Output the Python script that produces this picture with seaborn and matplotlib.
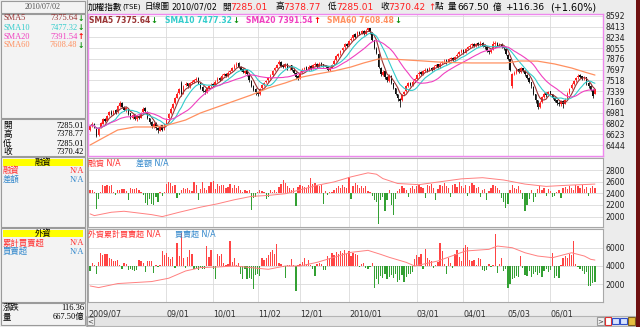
import numpy as np
import pandas as pd
import matplotlib
matplotlib.use("Agg")
import matplotlib.pyplot as plt
from matplotlib.patches import Rectangle
import seaborn as sns

# ---------------- data ----------------
closes = [
6760,6790,6740,6600,6720,6810,6870,6840,6930,6990,
6960,7010,6980,7090,7140,7080,7030,7060,6960,6900,
6940,6880,6920,6900,6980,7050,7010,6900,6820,6760,
6800,6720,6690,6760,6700,6790,6880,6960,7050,7130,
7220,7300,7380,7290,7430,7460,7420,7470,7500,7520,
7550,7480,7400,7350,7330,7390,7420,7450,7430,7500,
7550,7530,7600,7620,7590,7650,7680,7720,7760,7800,
7740,7700,7660,7680,7620,7520,7430,7360,7320,7300,
7380,7440,7480,7510,7560,7600,7680,7720,7780,7830,
7760,7740,7790,7720,7760,7700,7640,7580,7560,7650,
7700,7730,7690,7750,7720,7770,7790,7750,7800,7780,
7760,7740,7700,7730,7780,7850,7920,7960,8010,8060,
8120,8100,8180,8210,8280,8250,8320,8300,8340,8290,
8350,8390,8320,8200,8060,7980,7740,7620,7660,7580,
7520,7600,7480,7400,7300,7220,7180,7280,7330,7420,
7470,7440,7500,7540,7610,7650,7630,7670,7700,7680,
7720,7700,7750,7780,7740,7800,7830,7850,7820,7870,
7890,7860,7910,7950,7990,8020,7980,8040,8070,8100,
8120,8090,8130,8110,8140,8100,8080,8010,7990,8030,
8120,8150,8100,8130,8080,8060,7960,7880,7700,7620,
7650,7700,7660,7720,7680,7620,7560,7500,7420,7300,
7200,7080,7150,7240,7300,7270,7330,7290,7230,7180,
7140,7120,7170,7130,7200,7300,7380,7450,7510,7560,
7600,7580,7540,7560,7470,7420,7364,7254.06,7370.42]
opens = [
6690,6770,6800,6740,6610,6730,6800,6880,6850,6940,
7000,6950,7020,6990,7100,7150,7070,7020,7050,6970,
6890,6950,6870,6930,6900,6990,7060,7000,6890,6830,
6750,6810,6720,6680,6770,6700,6800,6890,6970,7060,
7140,7230,7310,7480,7300,7440,7470,7420,7480,7490,
7530,7560,7470,7410,7350,7320,7400,7430,7460,7430,
7510,7560,7530,7610,7630,7590,7660,7680,7730,7770,
7810,7740,7710,7650,7690,7610,7510,7420,7380,7330,
7290,7390,7450,7490,7520,7570,7610,7690,7730,7790,
7830,7770,7740,7800,7720,7770,7700,7650,7590,7560,
7660,7710,7740,7690,7760,7720,7780,7800,7750,7810,
7790,7760,7750,7700,7730,7790,7860,7930,7970,8020,
8070,8130,8110,8190,8220,8290,8250,8330,8300,8350,
8290,8360,8390,8310,8190,8050,7960,7730,7610,7670,
7570,7510,7600,7470,7390,7290,7210,7190,7290,7340,
7430,7480,7440,7510,7550,7620,7660,7630,7680,7710,
7680,7730,7700,7760,7790,7740,7810,7840,7860,7820,
7880,7900,7860,7920,7960,8000,8030,7980,8050,8080,
8110,8130,8090,8140,8110,8150,8110,8080,8010,7990,
8040,8130,8150,8100,8130,8080,8050,7950,7870,7420,
7630,7650,7710,7660,7720,7680,7610,7560,7490,7410,
7290,7190,7080,7160,7250,7310,7270,7340,7290,7230,
7190,7150,7120,7180,7130,7210,7310,7390,7460,7520,
7570,7610,7590,7540,7570,7480,7420,7360,7285.01]
highs = [
6780,6820,6810,6750,6740,6830,6890,6900,6950,7010,
7020,7030,7040,7110,7170,7160,7090,7080,7060,6980,
6960,6960,6940,6950,7000,7070,7080,7010,6900,6840,
6830,6820,6750,6780,6780,6800,6900,6980,7070,7150,
7240,7320,7400,7510,7450,7490,7480,7490,7520,7540,
7580,7570,7480,7420,7370,7410,7440,7470,7470,7520,
7570,7570,7620,7650,7640,7670,7700,7740,7790,7830,
7820,7760,7720,7700,7700,7620,7520,7440,7390,7350,
7400,7460,7500,7530,7580,7620,7700,7740,7800,7860,
7840,7790,7810,7810,7780,7780,7720,7660,7610,7670,
7720,7750,7760,7770,7780,7790,7820,7810,7820,7830,
7800,7780,7760,7750,7800,7870,7940,7980,8030,8080,
8140,8150,8200,8240,8300,8310,8340,8350,8360,8360,
8370,8400,8400,8320,8200,8070,7970,7750,7690,7680,
7590,7620,7610,7480,7400,7300,7230,7300,7350,7440,
7490,7490,7520,7560,7630,7670,7680,7690,7720,7730,
7740,7740,7770,7800,7800,7820,7850,7870,7870,7890,
7910,7910,7930,7970,8010,8050,8040,8060,8090,8120,
8150,8140,8150,8160,8170,8160,8120,8090,8030,8050,
8180,8170,8160,8150,8140,8100,8060,7960,7880,7640,
7680,7720,7720,7740,7730,7690,7620,7570,7500,7420,
7300,7200,7170,7260,7320,7320,7350,7350,7300,7240,
7200,7170,7190,7190,7220,7320,7400,7470,7530,7580,
7620,7630,7600,7590,7580,7500,7440,7370,7378.77]
lows = [
6680,6750,6720,6570,6600,6720,6790,6820,6840,6920,
6940,6940,6960,6980,7080,7060,7010,7000,6940,6870,
6870,6860,6850,6880,6890,6980,6990,6880,6800,6730,
6730,6690,6650,6670,6680,6690,6790,6880,6960,7050,
7130,7220,7290,7260,7290,7420,7400,7400,7460,7470,
7510,7460,7380,7330,7300,7310,7380,7410,7410,7420,
7500,7510,7520,7590,7570,7580,7640,7670,7710,7750,
7720,7680,7640,7630,7600,7500,7410,7340,7280,7260,
7280,7370,7430,7470,7500,7550,7600,7670,7720,7770,
7740,7720,7730,7700,7700,7680,7620,7540,7520,7550,
7640,7690,7670,7680,7700,7710,7760,7730,7740,7760,
7740,7720,7680,7680,7720,7780,7850,7910,7950,8000,
8050,8080,8100,8170,8200,8230,8240,8280,8290,8270,
8280,8340,8300,8180,8040,7960,7720,7590,7590,7550,
7490,7500,7460,7370,7270,7180,7080,7170,7270,7330,
7410,7420,7430,7490,7540,7600,7610,7610,7660,7660,
7670,7680,7690,7740,7720,7730,7790,7810,7800,7810,
7850,7840,7850,7900,7940,7980,7960,7970,8030,8060,
8080,8070,8070,8090,8090,8080,8050,7990,7960,7970,
8030,8100,8080,8080,8060,8030,7940,7860,7680,7400,
7610,7630,7640,7650,7660,7600,7540,7470,7400,7280,
7150,7040,7060,7150,7230,7250,7260,7270,7210,7160,
7110,7090,7100,7060,7120,7200,7300,7380,7450,7500,
7550,7560,7520,7520,7450,7400,7340,7230,7285.01]

sma60_day = [0, 6, 13, 21, 29, 35, 45, 52, 60, 68, 76, 84, 92, 100, 107, 115, 123,
             129, 136, 142, 149, 157, 164, 172, 180, 188, 196, 203, 211, 219, 227, 233, 238]
sma60_val = [6444, 6560, 6694, 6744, 6744, 6760, 6860, 6977, 7077, 7177, 7277, 7393,
             7477, 7576, 7626, 7676, 7743, 7810, 7876, 7876, 7860, 7843, 7826, 7815,
             7810, 7810, 7810, 7843, 7840, 7793, 7726, 7660, 7608.48]

sma_names = ["SMA5", "SMA10", "SMA20", "SMA60"]
sma_last = [7375.64, 7477.32, 7391.54, 7608.48]
sma_up = [False, False, True, False]
volume_last = 667.50

margin_base = 2400
margin_chg = [
60,50,30,-270,-100,20,140,120,150,130,
150,30,-30,60,50,80,70,40,-120,90,
70,80,100,60,20,-30,-160,-200,-100,-180,
-200,-60,-150,20,-40,30,160,200,180,120,
150,-80,-30,60,90,70,100,60,40,190,
150,-120,80,190,90,60,120,200,210,80,
160,120,150,140,90,110,160,100,140,90,
120,60,30,50,40,60,-280,-80,-60,30,
60,40,20,-90,-60,50,30,60,20,110,
160,230,180,120,100,60,90,-220,110,150,
130,110,90,140,270,160,170,140,120,150,
-180,40,-30,20,30,60,90,130,100,140,
110,90,290,-90,120,170,140,100,130,90,
120,40,20,-40,-110,-150,-530,-120,-60,-300,
-120,60,-200,-380,-100,40,80,120,90,60,
-60,100,130,80,120,150,110,90,-80,140,
120,160,100,-120,80,150,130,170,120,90,
-60,140,160,110,190,130,100,150,-50,120,
170,140,90,110,-70,60,80,-120,40,100,
150,120,90,60,-80,-150,-260,-180,60,140,
100,80,120,60,-100,-300,-200,-90,50,-150,
-60,80,120,60,90,-50,70,40,-60,-40,
30,60,-80,90,110,80,130,100,60,150,
120,90,140,80,110,-40,100,130,90]
margin_day = [0, 2, 10, 16, 29, 34, 42, 52, 60, 68, 76, 84, 92, 107, 115, 123, 131,
              135, 138, 145, 155, 165, 175, 185, 195, 205, 215, 225, 238]
margin_bal = [2047, 2017, 2075, 2092, 2034, 2000, 2075, 2162, 2220, 2290, 2348, 2365,
              2394, 2539, 2597, 2684, 2753, 2730, 2655, 2570, 2550, 2600, 2650, 2670,
              2630, 2560, 2520, 2540, 2560]

foreign_base = 4000
foreign_net = [
-550,360,100,-840,400,1450,1200,1350,1300,900,
800,600,500,650,100,-360,300,250,-450,-300,
-450,-500,-400,700,600,300,-700,550,500,550,
-730,100,-80,60,1640,1200,1400,1000,800,1000,
-180,2550,1100,3640,900,-180,1000,1800,1300,-300,
-200,-400,-250,-350,-300,2180,1000,1800,-300,-1450,
1270,1100,1270,300,150,200,2730,400,900,100,
300,-900,-1450,-300,-1450,-1300,-1450,-2550,-1000,-900,
-1100,900,700,900,1200,1500,1800,1300,2360,300,
200,-100,-1270,150,100,730,100,-2730,150,200,
400,900,200,700,100,-300,-1090,200,300,200,
-450,-400,1100,900,1400,1200,1500,1300,1600,1450,
1800,1300,1600,1100,1450,1300,1200,-150,200,300,
-200,-360,-150,360,-2360,-1400,-2000,-1100,-1300,-900,
-1450,-1200,-1000,-1300,-900,-1800,-1500,-1000,-1700,-1200,
-900,-900,-700,800,1200,1000,1300,-360,1900,900,
700,600,-180,100,400,2550,1640,200,-900,900,
300,-180,1300,1800,1000,600,2000,2300,2100,650,
600,650,100,900,800,-450,-500,-400,200,-150,
100,3450,-730,200,900,-550,-300,-2400,-2000,-1400,
-1300,-1100,-1200,1100,-200,-1000,-1100,-600,-1200,-900,
-700,-1000,-800,-1200,-600,-300,-700,-400,1450,-1270,
-1100,-1270,100,900,1100,900,1300,1200,2730,200,
-100,-300,-500,-900,-700,-2180,-2200,-1900,-1700]
foreign_day = [0, 4, 13, 29, 37, 45, 52, 60, 68, 76, 84, 92, 99, 107, 115, 123, 131,
               137, 141, 149, 153, 164, 177, 188, 192, 199, 205, 211, 218, 227, 233, 236, 238]
foreign_cum = [1820, 1640, 2080, 2300, 2660, 3455, 3820, 3890, 4000, 3820, 3640, 4000,
               4000, 4400, 4950, 5490, 5710, 5270, 4950, 4400, 4000, 4550, 5640, 5820,
               6180, 6000, 5450, 5090, 4910, 5450, 5090, 4730, 4650]

price_ticks = [8592, 8413, 8234, 8055, 7876, 7697, 7518, 7339, 7160, 6981, 6802, 6623, 6444]
margin_ticks = [2800, 2600, 2400, 2200, 2000]
foreign_ticks = [6000, 4000, 2000]
month_labels = ["2009/07", "09/01", "10/01", "11/02", "12/01", "2010/01",
                "03/01", "04/01", "05/03", "06/01"]
month_day = [-1, 36, 58, 79, 99, 122, 154, 176, 197, 217]

# ---------------- style ----------------
sns.set_style("white")
plt.rcParams["font.family"] = ["DejaVu Sans", "Noto Sans CJK TC"]
plt.rcParams["axes.unicode_minus"] = False
LEFTF = ["Liberation Serif", "Noto Sans CJK TC"]

W, H = 640, 327
fig = plt.figure(figsize=(6.4, 3.27), dpi=100)
fig.patch.set_facecolor("#ECECEC")


def px_axes(x0, y0, x1, y1):
    return fig.add_axes([x0 / W, 1 - y1 / H, (x1 - x0) / W, (y1 - y0) / H])


bg = px_axes(0, 0, W, H)
bg.set_xlim(0, W); bg.set_ylim(H, 0); bg.axis("off"); bg.set_zorder(0)


def box(x, y, w, h, fc="#F3F3F3", ec="#9A9A9A", lw=0.8):
    bg.add_patch(Rectangle((x, y), w, h, facecolor=fc, edgecolor=ec, linewidth=lw))


# left panel boxes
box(1, 1, 84, 12)
box(1, 14, 84, 104)
box(1, 119, 84, 37)
box(1, 157, 84, 70)
box(3, 159, 80, 7, fc="#FFFF00", ec="none")
box(1, 228, 84, 74)
box(3, 230, 80, 7, fc="#FFFF00", ec="none")
box(1, 303, 84, 22)
bg.plot([86.5, 86.5], [0, 327], color="#A0A0A0", lw=0.8)
# scrollbar
box(86, 316, 550, 10, fc="#E4E4E4", ec="#B4B4B4")
box(87, 317, 7, 8, fc="#F2F2F2", ec="#9A9A9A")
box(597, 317, 7, 8, fc="#F2F2F2", ec="#9A9A9A")
box(605, 317, 6, 8, fc="#FFFFFF", ec="#E03030")
box(612, 318, 7, 6, fc="#D8E4FF", ec="#3050C8")
box(620, 318, 7, 6, fc="#D8E4FF", ec="#3050C8")
box(628, 317, 7, 8, fc="#E8C040", ec="#806020")
bg.add_patch(Rectangle((636, 0), 4, 327, facecolor="#6E1010", edgecolor="none"))

days = np.arange(len(closes))
o = np.array(opens, float); c = np.array(closes, float)
hi = np.maximum.reduce([np.array(highs, float), o, c])
lo = np.minimum.reduce([np.array(lows, float), o, c])
s = pd.Series(c)
sma5 = s.rolling(5, min_periods=1).mean()
sma10 = s.rolling(10, min_periods=1).mean()
sma20 = s.rolling(20, min_periods=1).mean()

XL = (-0.94, 241.8)
GRID = "#DADADA"

# ---------------- main price panel ----------------
ax = px_axes(88, 14, 603, 156)
ax.set_zorder(1)
ax.set_facecolor("white")
ax.set_xlim(*XL); ax.set_ylim(6261, 8625)
ax.set_xticks(month_day); ax.set_yticks(price_ticks)
ax.grid(True, color=GRID, lw=0.6); ax.set_axisbelow(True)
up = c >= o
col = np.where(up, "#FF2020", "#101010")
ax.vlines(days, lo, hi, colors=col, linewidth=0.6, zorder=3)
ax.bar(days, np.maximum(np.abs(c - o), 8), bottom=np.minimum(o, c), width=0.75,
       color=col, linewidth=0, zorder=4)
line_cols = ["#993333", "#33CCCC", "#F040C0", "#FF9060"]
for yv, cl in zip([sma5, sma10, sma20], line_cols[:3]):
    sns.lineplot(x=days, y=yv, ax=ax, color=cl, lw=0.8, legend=False, zorder=5)
sns.lineplot(x=sma60_day, y=sma60_val, ax=ax, color=line_cols[3], lw=0.9, legend=False, zorder=5)
for sp in ax.spines.values():
    sp.set_color("#EE88EE"); sp.set_linewidth(1.0)

# ---------------- margin panel ----------------
ax2 = px_axes(88, 158, 603, 227)
ax2.set_zorder(1); ax2.set_facecolor("white")
ax2.set_xlim(*XL); ax2.set_ylim(1821, 3009)
ax2.set_xticks(month_day); ax2.set_yticks(margin_ticks)
ax2.grid(True, color=GRID, lw=0.6); ax2.set_axisbelow(True)
mc = np.array(margin_chg, float)
ax2.bar(days, mc, bottom=margin_base, width=0.6,
        color=np.where(mc >= 0, "#FF4444", "#33A033"), linewidth=0, zorder=3)
sns.lineplot(x=margin_day, y=margin_bal, ax=ax2, color="#FF8080", lw=0.7, legend=False, zorder=4)

# ---------------- foreign panel ----------------
ax3 = px_axes(88, 229, 603, 302)
ax3.set_zorder(1); ax3.set_facecolor("white")
ax3.set_xlim(*XL); ax3.set_ylim(65, 8044)
ax3.set_xticks(month_day); ax3.set_yticks(foreign_ticks)
ax3.grid(True, color=GRID, lw=0.6); ax3.set_axisbelow(True)
fn = np.array(foreign_net, float)
ax3.bar(days, fn, bottom=foreign_base, width=0.6,
        color=np.where(fn >= 0, "#FF4444", "#33A033"), linewidth=0, zorder=3)
sns.lineplot(x=foreign_day, y=foreign_cum, ax=ax3, color="#FF8080", lw=0.7, legend=False, zorder=4)

for a in (ax, ax2, ax3):
    a.set_xlabel(""); a.set_ylabel("")
    a.yaxis.tick_right()
    a.tick_params(axis="y", length=0, pad=2, labelsize=5.6, labelcolor="#202020")
    a.tick_params(axis="x", length=0, labelbottom=False)
for a in (ax2, ax3):
    for sp in a.spines.values():
        sp.set_color("#A8A8A8"); sp.set_linewidth(0.8)
ax3.tick_params(axis="x", length=2.5, width=0.6, color="#888888", labelbottom=True,
                labelsize=5.8, labelcolor="#303030", pad=3)
ax3.set_xticklabels(month_labels)
for lb in ax3.get_xticklabels():
    lb.set_ha("left")

# ---------------- texts ----------------
ov = px_axes(0, 0, W, H)
ov.set_xlim(0, W); ov.set_ylim(H, 0); ov.axis("off"); ov.set_zorder(10)
ov.patch.set_alpha(0)

RED = "#FF2020"; BLK = "#000000"
chg = closes[-1] - closes[-2]
pct = chg / closes[-2] * 100
NUMFS = 6.5
title_parts = [
    ("加權指數", 88, BLK, 6.2), ("(TSE)", 122, BLK, 5.0), ("日線圖", 145, BLK, 6.0),
    ("2010/07/02", 171, BLK, 5.8),
    ("開", 222, BLK, 6.2), (f"{opens[-1]:.2f}", 230, RED, NUMFS),
    ("高", 275, BLK, 6.2), (f"{highs[-1]:.2f}", 283, RED, NUMFS),
    ("低", 328, BLK, 6.2), (f"{lows[-1]:.2f}", 336, RED, NUMFS),
    ("收", 380, BLK, 6.2), (f"{closes[-1]:.2f}", 388, RED, NUMFS),
    ("↑", 428.5, RED, 6.2), ("點", 435, BLK, 6.2),
    ("量", 448, BLK, 6.2), (f"{volume_last:.2f}", 457, BLK, NUMFS), ("億", 493, BLK, 6.2),
    (f"{chg:+.2f}", 505, BLK, NUMFS), (f"({pct:+.2f}%)", 550, BLK, 7.0),
]
for t, x, cl, fs in title_parts:
    ov.text(x, 7, t, color=cl, fontsize=fs, va="center", ha="left")

fig.canvas.draw()
rend = fig.canvas.get_renderer()

# SMA legend inside main panel
leg_x = [89, 165, 246, 327]
for nm, val, upf, cl, x in zip(sma_names, sma_last, sma_up, line_cols, leg_x):
    t = ov.text(x, 20.5, f"{nm} {val:.2f}", color=cl, fontsize=5.5, fontweight="bold",
                va="center", ha="left")
    bb = t.get_window_extent(renderer=rend)
    ov.text(bb.x1 + 0.5, 20.5, "↑" if upf else "↓", color="#FF0000" if upf else "#109010",
            fontsize=6, fontweight="bold", va="center", ha="left")

# left panel
ov.text(43, 7, "2010/07/02", color="#505050", fontsize=5.8, family=LEFTF, ha="center", va="center")
for nm, val, upf, cl, y in zip(sma_names, sma_last, sma_up, line_cols, [18.3, 27.7, 36.7, 45]):
    ov.text(3, y, nm, color=cl, fontsize=6, family=LEFTF, va="center", ha="left")
    ov.text(77.5, y, f"{val:.2f}", color=cl, fontsize=6, family=LEFTF, va="center", ha="right")
    ov.text(81, y, "↑" if upf else "↓", color="#FF0000" if upf else "#109010",
            fontsize=5.5, fontweight="bold", va="center", ha="center")
for lab, val, y in zip(["開", "高", "低", "收"], [opens[-1], highs[-1], lows[-1], closes[-1]],
                       [126, 134.5, 143.5, 152]):
    ov.text(3, y, lab, color=BLK, fontsize=6.2, family=LEFTF, va="center", ha="left")
    ov.text(84, y, f"{val:.2f}", color=BLK, fontsize=6, family=LEFTF, va="center", ha="right")
RD = "#FF3030"; BL = "#3388CC"
ov.text(43, 162.5, "融資", color=BLK, fontsize=6, family=LEFTF, ha="center", va="center")
ov.text(3, 171, "融資", color=RD, fontsize=6, family=LEFTF, va="center")
ov.text(84, 171, "N/A", color=RD, fontsize=6, family=LEFTF, va="center", ha="right")
ov.text(3, 180, "差額", color=BL, fontsize=6, family=LEFTF, va="center")
ov.text(84, 180, "N/A", color=BL, fontsize=6, family=LEFTF, va="center", ha="right")
ov.text(43, 233.5, "外資", color=BLK, fontsize=6, family=LEFTF, ha="center", va="center")
ov.text(3, 243.3, "累計買賣超", color=RD, fontsize=6, family=LEFTF, va="center")
ov.text(84, 243.3, "N/A", color=RD, fontsize=6, family=LEFTF, va="center", ha="right")
ov.text(3, 251.7, "買賣超", color=BL, fontsize=6, family=LEFTF, va="center")
ov.text(84, 251.7, "N/A", color=BL, fontsize=6, family=LEFTF, va="center", ha="right")
ov.text(3, 308, "漲跌", color=BLK, fontsize=6, family=LEFTF, va="center")
ov.text(84, 308, f"{chg:.2f}", color=BLK, fontsize=6, family=LEFTF, va="center", ha="right")
ov.text(3, 317, "量", color=BLK, fontsize=6, family=LEFTF, va="center")
ov.text(84, 317, f"{volume_last:.2f}億", color=BLK, fontsize=6, family=LEFTF, va="center", ha="right")

# sub panel titles
ov.text(88, 163, "融資 N/A", color=RD, fontsize=5.8, va="center")
ov.text(136, 163, "差額 N/A", color=BL, fontsize=5.8, va="center")
ov.text(88, 234, "外資累計買賣超 N/A", color=RD, fontsize=5.8, va="center")
ov.text(175, 234, "買賣超 N/A", color=BL, fontsize=5.8, va="center")
ov.text(90.5, 321, "<", color="#404040", fontsize=5, ha="center", va="center")
ov.text(600.5, 321, ">", color="#404040", fontsize=5, ha="center", va="center")

fig.savefig("out.png", dpi=100, facecolor=fig.get_facecolor())
